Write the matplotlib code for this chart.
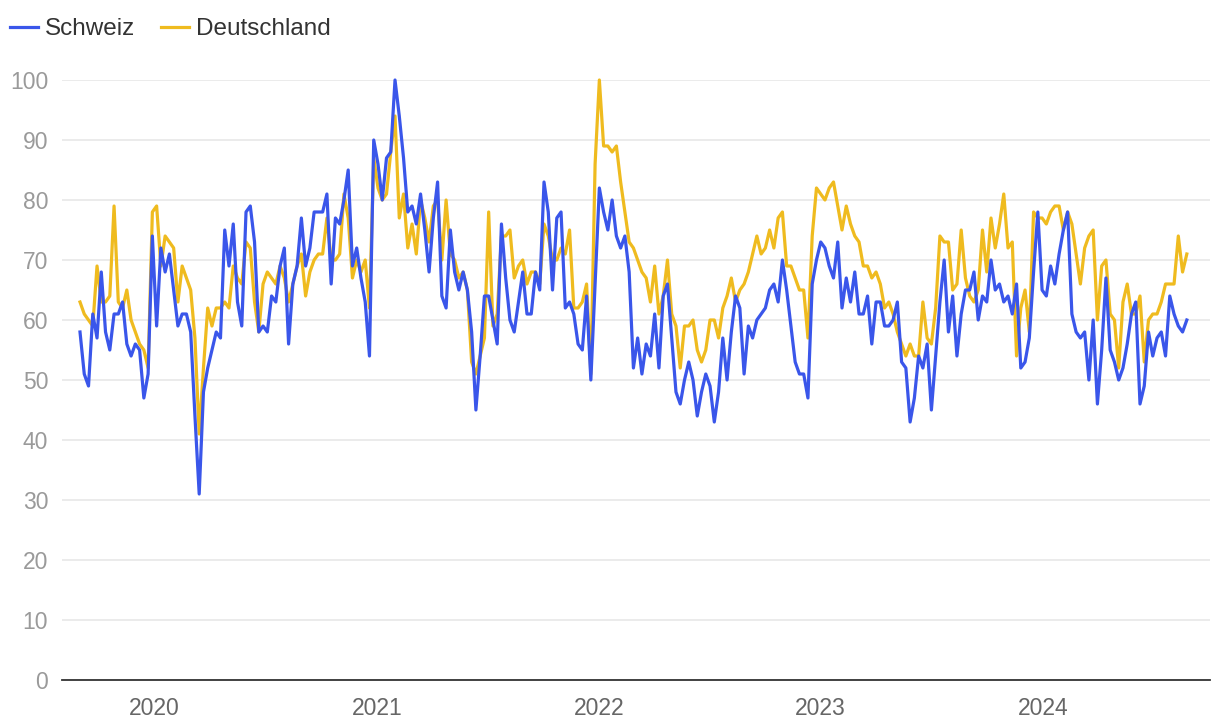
import numpy as np
import pandas as pd
import matplotlib
matplotlib.use('Agg')
import matplotlib.pyplot as plt

plt.rcParams['font.family'] = ['Liberation Sans', 'DejaVu Sans']

# weekly search interest, first week starting 2019-09-01
start = '2019-09-01'

schweiz = [
    58, 51, 49, 61, 57, 68, 58, 55, 61, 61, 63, 56, 54, 56, 55, 47, 51, 74, 59, 72, 68,
    71, 65, 59, 61, 61, 58, 44, 31, 48, 52, 55, 58, 57, 75, 69, 76, 63, 59, 78, 79, 73, 58,
    59, 58, 64, 63, 69, 72, 56, 66, 69, 77, 69, 72, 78, 78, 78, 81, 66, 77, 76, 80, 85, 69, 72,
    67, 63, 54, 90, 86, 80, 87, 88, 100, 94, 87, 78, 79, 76, 81, 75, 68, 77, 83, 64, 62, 75, 68,
    65, 68, 65, 58, 45, 54, 64, 64, 60, 56, 76, 67, 60, 58, 63, 68, 61, 61, 68, 65, 83, 78,
    65, 77, 78, 62, 63, 61, 56, 55, 64, 50, 66, 82, 78, 75, 80, 74, 72, 74, 68, 52, 57, 51, 56,
    54, 61, 52, 64, 66, 57, 48, 46, 50, 53, 50, 44, 48, 51, 49, 43, 48, 57, 50, 58, 64, 62,
    51, 59, 57, 60, 61, 62, 65, 66, 63, 70, 65, 59, 53, 51, 51, 47, 66, 70, 73, 72, 69, 67,
    73, 62, 67, 63, 68, 61, 61, 64, 56, 63, 63, 59, 59, 60, 63, 53, 52, 43, 47, 54, 52, 56,
    45, 54, 63, 70, 58, 64, 54, 61, 65, 65, 68, 60, 64, 63, 70, 65, 66, 63, 64, 61, 66, 52, 53,
    57, 68, 78, 65, 64, 69, 66, 71, 75, 78, 61, 58, 57, 58, 50, 60, 46, 55, 67, 55, 53, 50,
    52, 56, 61, 63, 46, 49, 58, 54, 57, 58, 54, 64, 61, 59, 58, 60,
]

deutschland = [
    63, 61, 60, 59, 69, 63, 63, 64, 79, 63, 62, 65, 60, 58, 56, 55, 52, 78, 79, 69, 74,
    73, 72, 63, 69, 67, 65, 57, 41, 52, 62, 59, 62, 62, 63, 62, 69, 67, 66, 73, 72, 63, 58, 66,
    68, 67, 66, 69, 67, 63, 66, 69, 71, 64, 68, 70, 71, 71, 77, 70, 70, 71, 81, 77, 67, 70,
    68, 70, 62, 87, 82, 80, 81, 88, 94, 77, 81, 72, 76, 71, 80, 77, 73, 79, 80, 70, 80, 71, 70,
    67, 68, 65, 53, 51, 54, 57, 78, 59, 61, 74, 74, 75, 67, 69, 70, 66, 68, 68, 66, 76, 74,
    70, 70, 72, 71, 75, 62, 62, 63, 66, 51, 86, 100, 89, 89, 88, 89, 83, 78, 73, 72, 70, 68, 67,
    63, 69, 61, 64, 70, 61, 59, 52, 59, 59, 60, 55, 53, 55, 60, 60, 57, 62, 64, 67, 63, 65,
    66, 68, 71, 74, 71, 72, 75, 72, 77, 78, 69, 69, 67, 65, 65, 57, 74, 82, 81, 80, 82, 83,
    79, 75, 79, 76, 74, 73, 69, 69, 67, 68, 66, 62, 63, 61, 58, 56, 54, 56, 54, 54, 63, 57,
    56, 62, 74, 73, 73, 65, 66, 75, 67, 64, 63, 65, 75, 68, 77, 72, 76, 81, 72, 73, 54, 62, 65,
    58, 78, 77, 77, 76, 78, 79, 79, 75, 78, 76, 71, 66, 72, 74, 75, 60, 69, 70, 61, 60, 52,
    63, 66, 61, 61, 64, 53, 60, 61, 61, 63, 66, 66, 66, 74, 68, 71,
]

years = ['2020', '2021', '2022', '2023', '2024']
y_ticks = list(range(0, 101, 10))

weeks = pd.date_range(start, periods=len(schweiz), freq='7D')

BLUE = '#3a56ea'
YELLOW = '#efbb1f'

W, H = 1220, 726
fig = plt.figure(figsize=(W / 100, H / 100), dpi=100, facecolor='white')
ax = fig.add_axes([62 / W, (H - 680) / H, (1210 - 62) / W, 600 / H])

ax.plot(weeks, deutschland, color=YELLOW, lw=2.3, solid_joinstyle='round', clip_on=False, zorder=3)
ax.plot(weeks, schweiz, color=BLUE, lw=2.3, solid_joinstyle='round', clip_on=False, zorder=4)

# px -> date range: first week at x=80, 4.257 px per week
day_px = 4.257 / 7
x_left = weeks[0] - pd.Timedelta(days=(80 - 62) / day_px)
x_right = weeks[0] + pd.Timedelta(days=(1210 - 80) / day_px)
ax.set_xlim(x_left, x_right)
ax.set_ylim(0, 100)

ax.set_yticks(y_ticks)
ax.set_yticklabels([str(v) for v in y_ticks])
ax.set_xticks([pd.Timestamp(f'{y}-01-01') for y in years])
ax.set_xticklabels(years)

ax.grid(axis='y', color='#e6e6e6', lw=1.1, zorder=0)
ax.set_axisbelow(True)
for s in ['left', 'right', 'top']:
    ax.spines[s].set_visible(False)
ax.spines['bottom'].set_color('#333333')
ax.spines['bottom'].set_linewidth(1.3)
ax.tick_params(axis='y', length=0, pad=10, labelsize=16.5, labelcolor='#9a9a9a')
ax.tick_params(axis='x', length=0, pad=12, labelsize=16.5, labelcolor='#666666')

fig.legend(ax.get_lines()[::-1], ['Schweiz', 'Deutschland'], loc='upper left',
           bbox_to_anchor=(10 / W, 1 - 18 / H), ncol=2, frameon=False,
           fontsize=17.5, handlelength=1.15, handletextpad=0.3, columnspacing=1.05,
           labelcolor='#333333', borderaxespad=0, borderpad=0)

fig.savefig('out.png', dpi=100, facecolor='white')
